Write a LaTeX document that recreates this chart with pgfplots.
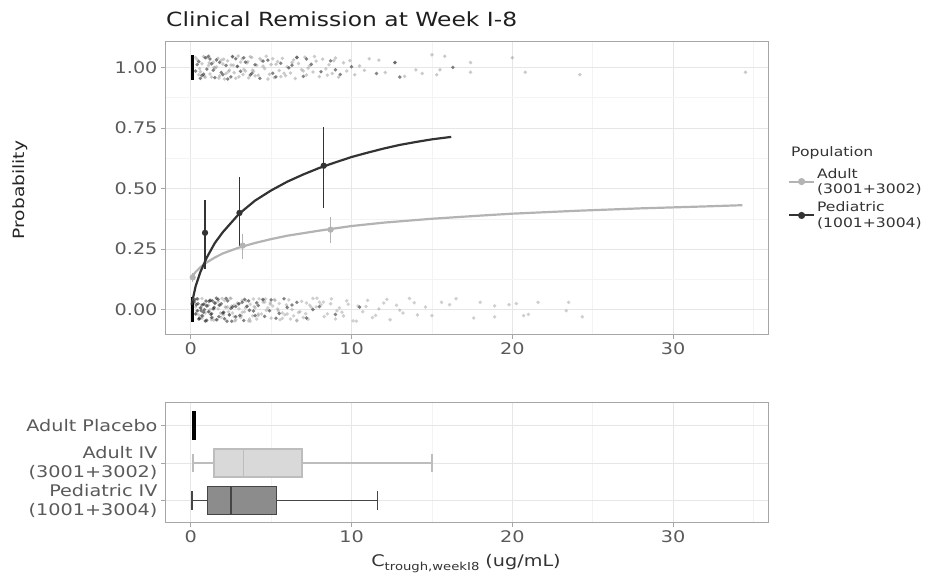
\documentclass[border=0pt]{standalone}
\usepackage{fontspec}
\setmainfont{DejaVu Sans}[FakeStretch=1.2]
\usepackage{pgfplots}
\pgfplotsset{compat=1.18}
\usepgfplotslibrary{statistics}
\definecolor{adultc}{HTML}{B3B3B3}
\definecolor{pedc}{HTML}{333333}
\definecolor{gridmaj}{HTML}{E6E6E6}
\definecolor{gridmin}{HTML}{F3F3F3}
\definecolor{framec}{HTML}{A6A6A6}
\definecolor{tickc}{HTML}{5A5A5A}
\definecolor{ptgray}{HTML}{959595}
\definecolor{ptdark}{HTML}{1E1E1E}
\definecolor{boxa}{HTML}{D9D9D9}
\definecolor{boxaedge}{HTML}{BDBDBD}
\definecolor{boxp}{HTML}{8C8C8C}
\definecolor{boxpedge}{HTML}{454545}

\pgfplotsset{
  myaxis/.style={
    scale only axis,
    axis line style={framec, line width=1pt},
    tick style={framec, line width=0.8pt},
    major tick length=4pt, minor tick length=0pt,
    tick align=outside, tick pos=left,
    major grid style={gridmaj, line width=0.9pt},
    minor grid style={gridmin, line width=0.5pt},
    tick label style={font=\fontsize{16}{19}\selectfont, color=tickc},
    xmin=-1.6, xmax=35.9,
    xtick={0,10,20,30}, xticklabels={0,10,20,30},
    minor xtick={5,15,25,35},
    xmajorgrids, xminorgrids,
  }
}

\begin{document}
\begin{tikzpicture}
\path[use as bounding box] (0pt,0pt) rectangle (939pt,575pt);

% ---------------- top panel ----------------
\begin{axis}[myaxis,
  at={(165pt,240pt)}, anchor=south west,
  width=603pt, height=293pt,
  ymin=-0.105, ymax=1.105,
  ytick={0,0.25,0.5,0.75,1}, yticklabels={0.00,0.25,0.50,0.75,1.00},
  minor ytick={0.125,0.375,0.625,0.875},
  ymajorgrids, yminorgrids,
  legend style={at={(1.033,0.577)}, anchor=north west, draw=none, fill=none,
    font=\fontsize{13}{15.5}\selectfont, text=black!80, inner sep=0pt,
    cells={anchor=west, align=left}, row sep=3pt},
  legend image code/.code={\draw[mark repeat=2,mark phase=2,#1] plot coordinates {(0pt,0pt)(12.5pt,0pt)(25pt,0pt)};},
]
\addlegendimage{adultc, line width=2pt, mark=*, mark size=2.5pt}
\addlegendentry{Adult\\(3001+3002)}
\addlegendimage{pedc, line width=2pt, mark=*, mark size=2.5pt}
\addlegendentry{Pediatric\\(1001+3004)}

% responders, adult
\addplot[forget plot, only marks, mark=*, mark size=1.9pt, draw opacity=0, fill=ptgray, fill opacity=0.5] table[row sep=\\] {
x y\\
0.4 1.032\\ 0.6 0.982\\ 0.8 1.045\\ 0.9 0.959\\ 1.1 1.008\\ 1.2 0.973\\ 1.4 1.021\\ 1.5 0.996\\ 1.7 1.038\\ 1.8 0.965\\
2.0 1.014\\ 2.1 0.952\\ 2.3 1.027\\ 2.4 0.989\\ 2.6 1.043\\ 2.7 0.978\\ 2.9 1.004\\ 3.0 0.961\\ 3.2 1.035\\ 3.3 0.992\\
3.5 1.018\\ 3.6 0.957\\ 3.8 1.041\\ 3.9 0.983\\ 4.1 1.009\\ 4.2 0.968\\ 4.4 1.029\\ 4.6 0.995\\ 4.7 1.046\\ 4.9 0.972\\
5.0 1.012\\ 5.2 0.958\\ 5.4 1.024\\ 5.5 0.987\\ 5.7 1.037\\ 5.9 0.966\\ 6.0 1.003\\ 6.2 0.977\\ 6.4 1.031\\ 6.5 0.954\\
6.7 1.016\\ 6.9 0.991\\ 7.1 1.042\\ 7.2 0.969\\ 7.4 1.007\\ 7.6 0.981\\ 7.8 1.026\\ 8.0 0.962\\ 8.2 1.034\\ 8.4 0.994\\
8.6 1.011\\ 8.8 0.975\\ 9.0 1.039\\ 9.2 0.960\\ 9.5 1.019\\ 9.7 0.985\\ 9.9 1.028\\ 10.2 0.970\\ 10.5 1.006\\ 10.8 0.988\\
11.1 1.036\\ 11.7 1.030\\ 12.1 0.979\\ 12.7 1.020\\ 13.3 0.963\\ 14.0 0.990\\ 14.4 0.975\\ 15.0 1.052\\ 15.3 0.970\\ 15.5 0.990\\
15.8 1.046\\ 17.4 1.020\\ 17.4 0.980\\ 20.0 1.040\\ 20.8 0.980\\ 24.2 0.970\\ 34.5 0.980\\
0.5 0.970\\ 0.7 1.015\\ 1.0 1.040\\ 1.3 0.960\\ 1.6 1.002\\ 1.9 1.030\\ 2.2 0.975\\ 2.5 1.010\\ 2.8 0.955\\ 3.1 1.022\\
3.4 0.985\\ 3.7 1.044\\ 4.0 0.965\\ 4.5 1.005\\ 5.1 1.036\\ 5.6 0.962\\ 6.3 1.020\\ 7.0 0.985\\ 7.7 1.045\\ 8.5 0.968\\
0.3 1.041\\ 0.55 0.995\\ 0.85 0.964\\ 1.15 1.019\\ 1.45 1.000\\ 1.75 0.956\\ 2.05 1.034\\ 2.35 0.983\\ 2.65 1.009\\ 2.95 1.047\\
3.25 0.971\\ 3.55 1.024\\ 3.85 0.989\\ 4.3 1.036\\ 4.8 0.952\\ 5.3 1.013\\ 5.8 0.976\\ 6.6 1.042\\ 7.3 0.997\\ 8.9 1.028\\
};
% responders, pediatric
\addplot[forget plot, only marks, mark=*, mark size=1.9pt, draw opacity=0, fill=ptdark, fill opacity=0.55] table[row sep=\\] {
x y\\
0.3 0.985\\ 0.5 1.024\\ 0.7 0.967\\ 0.9 1.040\\ 1.0 0.993\\ 1.3 1.015\\ 1.5 0.958\\ 1.6 1.031\\ 1.9 0.979\\ 2.2 1.008\\
2.5 0.961\\ 2.8 1.036\\ 3.1 0.984\\ 3.4 1.022\\ 3.7 0.969\\ 4.0 1.011\\ 4.3 0.955\\ 4.8 1.030\\ 5.1 0.976\\ 5.6 1.017\\
6.1 0.998\\ 6.6 1.041\\ 7.0 0.963\\ 7.5 1.013\\ 8.1 0.982\\ 8.7 1.027\\ 9.3 0.971\\ 10.0 1.003\\ 11.55 0.975\\ 13.0 0.960\\
16.3 1.000\\ 12.7 1.020\\ 0.6 0.955\\ 1.2 1.035\\ 2.0 0.970\\ 2.6 1.045\\
0.4 1.012\\ 0.8 0.972\\ 1.1 1.046\\ 1.4 0.988\\ 1.8 1.021\\ 2.3 0.952\\ 2.9 1.004\\ 3.3 1.040\\ 3.8 0.975\\ 4.5 1.026\\
5.3 0.961\\ 6.3 1.009\\ 7.2 1.035\\ 9.0 0.990\\
};
% non-responders, adult
\addplot[forget plot, only marks, mark=*, mark size=1.9pt, draw opacity=0, fill=ptgray, fill opacity=0.45] table[row sep=\\] {
x y\\
0.25 0.031\\ 0.35 -0.018\\ 0.45 0.044\\ 0.55 -0.039\\ 0.65 0.007\\ 0.75 -0.026\\ 0.85 0.022\\ 0.95 -0.047\\ 1.05 0.015\\ 1.15 -0.009\\
1.25 0.038\\ 1.35 -0.033\\ 1.45 0.003\\ 1.55 0.027\\ 1.65 -0.042\\ 1.75 0.018\\ 1.85 -0.014\\ 1.95 0.046\\ 2.05 -0.022\\ 2.15 0.011\\
2.3 0.011\\ 2.4 -0.022\\ 2.5 0.046\\ 2.6 -0.014\\ 2.7 0.018\\ 2.8 -0.042\\ 2.9 0.027\\ 3.0 0.003\\ 3.1 -0.033\\ 3.2 0.038\\
3.35 -0.009\\ 3.5 0.015\\ 3.6 -0.047\\ 3.7 0.022\\ 3.85 -0.026\\ 4.0 0.007\\ 4.1 -0.039\\ 4.25 0.044\\ 4.4 -0.018\\ 4.5 0.031\\
4.65 0.044\\ 4.8 0.007\\ 4.95 0.022\\ 5.1 0.015\\ 5.25 0.038\\ 5.4 0.003\\ 5.55 -0.042\\ 5.7 -0.014\\ 5.85 -0.022\\ 6.0 -0.018\\
6.2 -0.039\\ 6.4 -0.026\\ 6.6 -0.047\\ 6.8 -0.009\\ 7.0 -0.033\\ 7.2 0.027\\ 7.4 0.018\\ 7.6 0.046\\ 7.8 0.011\\ 8.0 0.031\\
8.25 0.031\\ 8.5 -0.018\\ 8.75 0.044\\ 9.0 -0.039\\ 9.25 0.007\\ 9.5 -0.026\\ 9.8 0.022\\ 10.1 -0.047\\ 10.4 0.015\\ 10.7 -0.009\\
11.0 0.038\\ 11.3 -0.033\\ 11.7 0.003\\ 12.0 0.027\\ 12.4 -0.042\\ 12.8 0.018\\ 13.2 -0.014\\ 13.6 0.046\\ 14.1 -0.022\\ 14.6 0.011\\
15.0 -0.025\\ 15.6 0.030\\ 16.1 0.020\\ 16.5 0.045\\ 17.6 -0.035\\ 18.0 0.030\\ 18.9 0.015\\ 18.9 -0.030\\ 19.8 0.020\\ 20.25 0.025\\
20.7 -0.025\\ 21.0 -0.020\\ 21.6 0.030\\ 23.35 -0.005\\ 23.5 0.030\\ 24.35 -0.030\\
0.3 0.011\\ 0.5 -0.022\\ 0.7 0.046\\ 0.9 -0.014\\ 1.1 0.018\\ 1.3 -0.042\\ 1.5 0.027\\ 1.7 0.003\\ 1.9 -0.033\\ 2.1 0.038\\
2.35 -0.009\\ 2.55 0.015\\ 2.75 -0.047\\ 2.95 0.022\\ 3.15 -0.026\\ 3.4 0.007\\ 3.65 -0.039\\ 3.9 0.044\\ 4.2 -0.018\\ 4.6 0.031\\
5.0 -0.035\\ 5.5 0.025\\ 6.1 0.040\\ 6.7 -0.012\\ 7.3 -0.040\\ 8.1 0.020\\ 9.1 -0.005\\
0.2 0.041\\ 0.45 -0.005\\ 0.7 -0.036\\ 0.95 0.019\\ 1.2 0.000\\ 1.45 -0.044\\ 1.7 0.034\\ 1.95 -0.017\\ 2.2 0.009\\ 2.45 0.047\\
2.7 -0.029\\ 2.95 0.024\\ 3.2 -0.011\\ 3.45 0.036\\ 3.7 -0.048\\ 3.95 0.013\\ 4.2 -0.024\\ 4.45 0.042\\ 4.7 -0.003\\ 4.95 0.028\\
5.2 0.041\\ 5.45 -0.005\\ 5.7 -0.036\\ 5.95 0.019\\ 6.3 0.000\\ 6.6 -0.044\\ 6.9 0.034\\ 7.15 -0.017\\ 7.5 0.009\\ 7.85 0.047\\
8.3 -0.029\\ 8.7 0.024\\ 9.4 -0.011\\ 9.7 0.036\\ 10.3 -0.048\\ 10.9 0.013\\ 11.5 -0.024\\ 12.2 0.042\\ 13.0 -0.003\\ 13.9 0.028\\
};
% non-responders, pediatric
\addplot[forget plot, only marks, mark=*, mark size=1.9pt, draw opacity=0, fill=ptdark, fill opacity=0.55] table[row sep=\\] {
x y\\
0.2 0.031\\ 0.3 -0.018\\ 0.4 0.044\\ 0.5 -0.039\\ 0.6 0.007\\ 0.7 -0.026\\ 0.8 0.022\\ 0.9 -0.047\\ 1.0 0.015\\ 1.1 -0.009\\
1.2 0.038\\ 1.3 -0.033\\ 1.4 0.003\\ 1.5 0.027\\ 1.6 -0.042\\ 1.8 0.018\\ 2.0 -0.014\\ 2.2 0.046\\ 2.4 -0.022\\ 2.6 0.011\\
2.8 -0.030\\ 3.0 0.024\\ 3.3 -0.045\\ 3.6 0.036\\ 3.9 -0.006\\ 4.2 0.017\\ 4.6 -0.028\\ 5.0 0.040\\ 5.5 -0.016\\ 6.0 0.009\\
6.6 0.030\\ 7.2 -0.035\\ 8.0 0.012\\ 9.0 -0.020\\ 10.5 0.010\\ 0.35 0.020\\ 0.65 -0.005\\ 0.95 0.035\\ 1.25 -0.020\\ 1.7 0.042\\
2.1 -0.038\\ 2.5 0.005\\ 3.2 0.030\\ 4.0 -0.025\\ 5.8 0.045\\
0.25 0.041\\ 0.4 -0.005\\ 0.55 -0.036\\ 0.7 0.019\\ 0.85 0.000\\ 1.0 -0.044\\ 1.15 0.034\\ 1.3 -0.017\\ 1.45 0.009\\ 1.6 0.047\\
1.75 -0.029\\ 1.9 0.024\\ 2.05 -0.011\\ 2.3 0.036\\ 2.55 -0.048\\ 2.8 0.013\\ 3.05 -0.024\\ 3.35 0.042\\ 3.65 -0.003\\ 4.1 0.028\\
4.5 0.041\\ 4.9 -0.005\\ 5.3 -0.036\\ 6.3 0.019\\ 7.6 0.000\\ 0.45 0.024\\ 0.8 -0.011\\ 1.35 0.036\\ 2.25 -0.048\\ 3.5 0.013\\
};
% placebo (concentration ~0)
\addplot[forget plot, black, line width=3.5pt] coordinates {(0.12,-0.052) (0.12,0.052)};
\addplot[forget plot, black, line width=3.5pt] coordinates {(0.12,0.948) (0.12,1.052)};

% fitted curves
\addplot[forget plot, adultc, line width=2.2pt] coordinates {
(0,0.13) (0.3,0.155) (0.6,0.175) (1,0.195) (1.5,0.215) (2,0.232) (3,0.256) (4,0.275) (5,0.291) (6,0.305)
(8,0.326) (10,0.345) (12,0.359) (15,0.375) (18,0.388) (20,0.396) (24,0.408) (28,0.418) (32,0.426) (34.3,0.431)};
\addplot[forget plot, pedc, line width=2.2pt] coordinates {
(0.05,0.02) (0.15,0.05) (0.3,0.095) (0.6,0.155) (1,0.215) (1.5,0.275) (2,0.32) (3,0.395) (4,0.45) (5,0.492)
(6,0.528) (7,0.558) (8,0.585) (9,0.608) (10,0.63) (11,0.648) (12,0.665) (13,0.68) (14,0.692) (15,0.703) (16.2,0.713)};

% observed proportions with CI
\addplot[forget plot, only marks, adultc, mark=*, mark size=2.4pt, line width=1.4pt,
  error bars/.cd, y dir=both, y explicit, error mark=none, error bar style={adultc, line width=1.4pt}]
  coordinates {(0.12,0.133) += (0,0.02) -= (0,0.02) (3.23,0.264) += (0,0.048) -= (0,0.055) (8.7,0.33) += (0,0.051) -= (0,0.055)};
\addplot[forget plot, only marks, pedc, mark=*, mark size=2.4pt, line width=1.4pt,
  error bars/.cd, y dir=both, y explicit, error mark=none, error bar style={pedc, line width=1.4pt}]
  coordinates {(0.89,0.317) += (0,0.134) -= (0,0.15) (3.03,0.399) += (0,0.147) -= (0,0.135) (8.27,0.594) += (0,0.159) -= (0,0.176)};
\end{axis}

% ---------------- bottom panel ----------------
\begin{axis}[myaxis,
  at={(165pt,52pt)}, anchor=south west,
  width=603pt, height=120pt,
  ymin=0.4, ymax=3.6,
  ytick={1,2,3},
  yticklabels={{Pediatric IV\\(1001+3004)},{Adult IV \\(3001+3002)},{Adult Placebo}},
  yticklabel style={align=right},
  ymajorgrids,
  boxplot/draw direction=x,
  boxplot/every whisker/.style={line width=1.5pt},
]
\addplot[black, fill=black, line width=1.8pt, boxplot prepared={lower whisker=0.12, lower quartile=0.14, median=0.2, upper quartile=0.28, upper whisker=0.3, draw position=3, box extend=0.75, whisker extend=0.5}] coordinates {};
\addplot[boxaedge, fill=boxa, line width=1.3pt, boxplot prepared={lower whisker=0.13, lower quartile=1.45, median=3.3, upper quartile=6.92, upper whisker=15.0, draw position=2, box extend=0.75, whisker extend=0.5}] coordinates {};
\addplot[boxpedge, fill=boxp, line width=1.4pt, boxplot prepared={lower whisker=0.08, lower quartile=1.05, median=2.5, upper quartile=5.35, upper whisker=11.6, draw position=1, box extend=0.75, whisker extend=0.5,
  every median/.style={line width=2.2pt}}] coordinates {};
\end{axis}

% ---------------- texts ----------------
\node[anchor=base west, inner sep=0pt, text=black!88, font=\fontsize{19.5}{22}\selectfont] at (166pt,548pt) {Clinical Remission at Week I-8};
\node[rotate=90, inner sep=0pt, text=black!85, font=\fontsize{15.5}{18}\selectfont] at (20pt,385pt) {Probability};
\node[anchor=west, inner sep=0pt, text=black!80, font=\fontsize{13}{15}\selectfont] at (791pt,422pt) {Population};
\node[anchor=base, inner sep=0pt, text=black!80, font=\fontsize{16}{18}\selectfont] at (466pt,8pt) {C\raisebox{-0.4ex}{\fontsize{11}{12}\selectfont trough,weekI8} (ug/mL)};
\end{tikzpicture}
\end{document}
